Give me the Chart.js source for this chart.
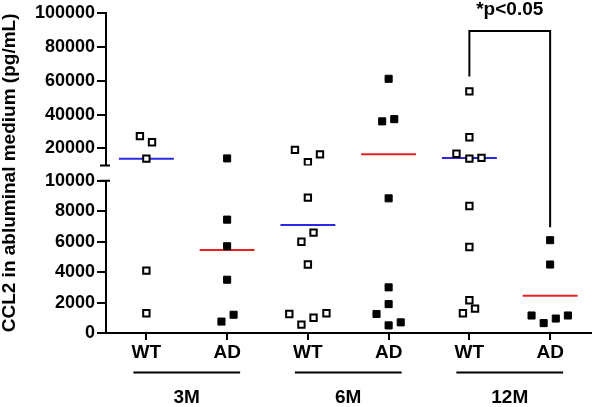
<!DOCTYPE html>
<html><head><meta charset="utf-8">
<script src="https://cdn.jsdelivr.net/npm/chart.js@4/dist/chart.umd.min.js"></script>
<style>html,body{margin:0;padding:0;background:#fff}#wrap{width:597px;height:407px;position:relative}</style>
</head><body><div id="wrap"><canvas id="c"></canvas></div>
<script>
// ---- data ----
const groupLabels = ['WT', 'AD', 'WT', 'AD', 'WT', 'AD'];
const ageLabels = ['3M', '6M', '12M'];
const yTitle = 'CCL2 in abluminal medium (pg/mL)';
const sigLabel = '*p<0.05';
const topTicks = [20000, 40000, 60000, 80000, 100000];
const bottomTicks = [0, 2000, 4000, 6000, 8000, 10000];
const breakValue = 10000;

const wt3M = [27300, 23700, 14000, 4100, 1300];
const ad3M = [14150, 7450, 5700, 3500, 1200, 750];
const wt6M = [19200, 16500, 12000, 8900, 6600, 6000, 4500, 1250, 550, 1000, 1300];
const ad6M = [61100, 36000, 37300, 8850, 3000, 1900, 1250, 500, 700];
const wt12M = [53700, 26600, 16900, 14000, 14500, 8350, 5650, 2150, 1600, 1300];
const ad12M = [6100, 4500, 1150, 650, 950, 1150];
const groupMeans = [14000, 5450, 7100, 16600, 14400, 2450];

// horizontal scatter of points inside each group (in category units)
const jit3WT = [-0.08, 0.07, 0, 0, 0];
const jit3AD = [0, 0, 0, 0, 0.08, -0.07];
const jit6WT = [-0.16, 0.15, 0, 0, 0.07, -0.08, 0, -0.23, -0.08, 0.07, 0.23];
const jit6AD = [0, -0.08, 0.07, 0, 0, 0, -0.15, 0, 0.15];
const jit12WT = [0, 0, -0.16, 0, 0.15, 0, 0, 0, 0.07, -0.08];
const jit12AD = [0, 0, -0.23, -0.08, 0.07, 0.22];

const groups = [wt3M, ad3M, wt6M, ad6M, wt12M, ad12M];
const jitters = [jit3WT, jit3AD, jit6WT, jit6AD, jit12WT, jit12AD];

// ---- build datasets ----
const FONT = "'Liberation Sans', Arial, Helvetica, sans-serif";
const datasets = [];
groups.forEach((vals, i) => {
  const isWT = i % 2 === 0;
  const pts = vals.map((v, j) => ({x: i + jitters[i][j], y: v}));
  const style = isWT
    ? {backgroundColor: '#ffffff', borderColor: '#000000', borderWidth: 2, pointRadius: 4.5}
    : {backgroundColor: '#000000', borderColor: '#000000', borderWidth: 1, pointRadius: 5};
  const up = pts.filter(p => p.y > breakValue);
  const lo = pts.filter(p => p.y <= breakValue);
  if (up.length) datasets.push(Object.assign({type: 'scatter', data: up, yAxisID: 'yTop', pointStyle: 'rect', order: 0}, style));
  if (lo.length) datasets.push(Object.assign({type: 'scatter', data: lo, yAxisID: 'yBot', pointStyle: 'rect', order: 0}, style));
  const m = groupMeans[i];
  datasets.push({
    type: 'line',
    data: [{x: i - 0.34, y: m}, {x: i + 0.34, y: m}],
    yAxisID: m > breakValue ? 'yTop' : 'yBot',
    borderColor: isWT ? '#2a2ae0' : '#e82020',
    borderWidth: 2, pointRadius: 0, fill: false, order: 1
  });
});

const tickFont = {family: FONT, size: 18, weight: 'bold'};

const extras = {
  id: 'extras',
  afterDraw(chart) {
    const ctx = chart.ctx;
    const ca = chart.chartArea;
    const xs = chart.scales.x, yT = chart.scales.yTop, yB = chart.scales.yBot;
    ctx.save();
    ctx.strokeStyle = '#000'; ctx.fillStyle = '#000'; ctx.lineWidth = 2;
    // axis break caps
    ctx.beginPath();
    ctx.moveTo(ca.left - 6, yT.bottom); ctx.lineTo(ca.left + 4, yT.bottom);
    ctx.moveTo(ca.left - 6, yB.top); ctx.lineTo(ca.left + 4, yB.top);
    ctx.stroke();
    // group bars and labels
    ctx.font = 'bold 19px ' + FONT;
    ctx.textAlign = 'center'; ctx.textBaseline = 'middle';
    ageLabels.forEach((lab, g) => {
      const x1 = xs.getPixelForValue(2 * g) - 13;
      const x2 = xs.getPixelForValue(2 * g + 1) + 13;
      const y = ca.bottom + 39.5;
      ctx.beginPath(); ctx.moveTo(x1, y); ctx.lineTo(x2, y); ctx.stroke();
      ctx.fillText(lab, (x1 + x2) / 2, ca.bottom + 65);
    });
    // significance bracket
    const bx1 = xs.getPixelForValue(4), bx2 = xs.getPixelForValue(5);
    const by = yT.getPixelForValue(89300);
    ctx.beginPath();
    ctx.moveTo(bx1, yT.getPixelForValue(62400));
    ctx.lineTo(bx1, by); ctx.lineTo(bx2, by);
    ctx.lineTo(bx2, yB.getPixelForValue(6950));
    ctx.stroke();
    ctx.fillText(sigLabel, (bx1 + bx2) / 2, 10);
    // y title
    ctx.translate(10, (yT.top + yB.bottom) / 2);
    ctx.rotate(-Math.PI / 2);
    ctx.fillText(yTitle, 0, 0);
    ctx.restore();
  }
};

const yCommon = {
  type: 'linear', position: 'left', stack: 'y',
  ticks: {font: tickFont, color: '#000', padding: 2, autoSkip: false, callback: v => String(v)},
  grid: {drawOnChartArea: false, tickLength: 9, color: '#000', lineWidth: 2},
  border: {color: '#000', width: 2},
  afterFit: s => { s.width = 106; }
};

// left-positioned stacked scales are laid out in reverse definition order,
// so the bottom segment is defined first and the top segment last
new Chart(document.getElementById('c'), {
  data: {datasets},
  plugins: [extras],
  options: {
    responsive: true, maintainAspectRatio: false, animation: false,
    layout: {padding: {top: 11, right: 2, bottom: 0, left: 0}},
    plugins: {legend: {display: false}, tooltip: {enabled: false}},
    scales: {
      x: {
        type: 'linear', min: -0.5, max: 5.5,
        afterBuildTicks: s => { s.ticks = groupLabels.map((_, i) => ({value: i})); },
        ticks: {font: {family: FONT, size: 19, weight: 'bold'}, color: '#000', padding: 1,
                autoSkip: false, maxRotation: 0, callback: v => groupLabels[v]},
        grid: {drawOnChartArea: false, tickLength: 7, color: '#000', lineWidth: 2},
        border: {color: '#000', width: 2},
        afterFit: s => { s.height = 74; }
      },
      yBot: Object.assign({}, yCommon, {
        stackWeight: 153.3, min: 0, max: breakValue,
        afterBuildTicks: s => { s.ticks = bottomTicks.map(v => ({value: v})); }
      }),
      yGap: {
        type: 'linear', position: 'left', stack: 'y', stackWeight: 15.5, min: 0, max: 1,
        ticks: {display: false}, grid: {display: false}, border: {display: false},
        afterFit: s => { s.width = 106; }
      },
      yTop: Object.assign({}, yCommon, {
        stackWeight: 153.8, min: breakValue, max: 100000,
        afterBuildTicks: s => { s.ticks = topTicks.map(v => ({value: v})); }
      })
    }
  }
});
</script>
</body></html>
